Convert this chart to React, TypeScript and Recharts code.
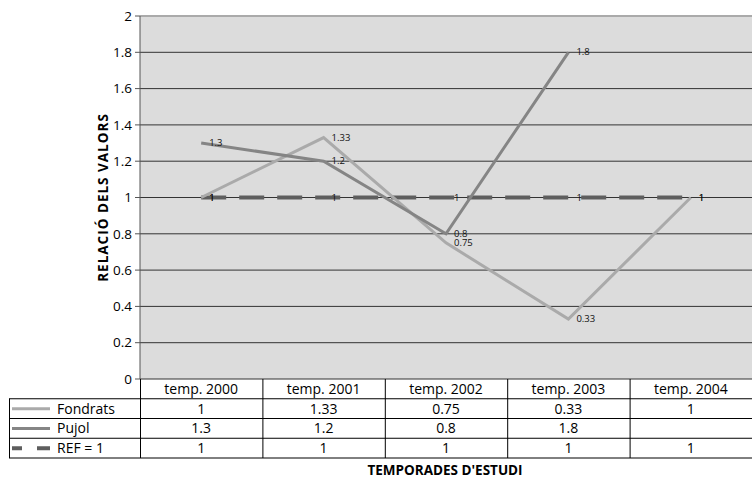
import React from "react";
import {
  LineChart, Line, XAxis, YAxis, CartesianGrid, ReferenceLine, LabelList,
} from "recharts";

const seasons = ["temp. 2000", "temp. 2001", "temp. 2002", "temp. 2003", "temp. 2004"];
const fondrats = [1, 1.33, 0.75, 0.33, 1];
const pujol: (number | null)[] = [1.3, 1.2, 0.8, 1.8, null];
const ref1 = [1, 1, 1, 1, 1];
const yTicks = [0, 0.2, 0.4, 0.6, 0.8, 1, 1.2, 1.4, 1.6, 1.8, 2];

const data = seasons.map((s, i) => ({
  season: s,
  fondrats: fondrats[i],
  pujol: pujol[i],
  ref: ref1[i],
}));

const W = 752;
const H = 479;
const PLOT_LEFT = 140;
const PLOT_BOTTOM = 379;
const ROW_H = 19.75;
const COL_W = (W - PLOT_LEFT) / seasons.length;
const FONT = "'Open Sans', 'Noto Sans', sans-serif";
const TXT = 14;

const rows = [
  { name: "Fondrats", values: fondrats },
  { name: "Pujol", values: pujol },
  { name: "REF = 1", values: ref1 },
];

const fmt = (v: number | null) => (v == null ? "" : String(v));

const TableTick = ({ x, payload }: any) => {
  const i = payload.index;
  return (
    <g>
      <text x={x} y={PLOT_BOTTOM + ROW_H / 2 + 5} textAnchor="middle" fontSize={TXT} fill="#000" fontFamily={FONT}>
        {seasons[i]}
      </text>
      {rows.map((r, k) => (
        <text key={r.name} x={x} y={PLOT_BOTTOM + ROW_H * (k + 1) + ROW_H / 2 + 5} textAnchor="middle" fontSize={TXT} fill="#000" fontFamily={FONT}>
          {fmt(r.values[i])}
        </text>
      ))}
    </g>
  );
};

const PointLabel = ({ x, y, value }: any) => {
  if (value == null) return null;
  return (
    <text x={x + 8} y={y + 3} fontSize={9.5} fill="#111" fontFamily={FONT}>
      {value}
    </text>
  );
};

function TableLines() {
  const ys = [1, 2, 3, 4].map((k) => PLOT_BOTTOM + ROW_H * k);
  const bottom = PLOT_BOTTOM + ROW_H * 4;
  return (
    <svg width={W} height={H} style={{ position: "absolute", left: 0, top: 0, pointerEvents: "none" }}>
      {ys.map((y) => (
        <line key={y} x1={9} x2={W} y1={y} y2={y} stroke="#000" strokeWidth={1} />
      ))}
      <line x1={9.5} x2={9.5} y1={PLOT_BOTTOM + ROW_H} y2={bottom} stroke="#000" />
      {seasons.map((s, i) => (
        <line key={s} x1={PLOT_LEFT + COL_W * i + 0.5} x2={PLOT_LEFT + COL_W * i + 0.5} y1={PLOT_BOTTOM} y2={bottom} stroke="#000" />
      ))}
      {/* legend keys */}
      <line x1={12} x2={50} y1={PLOT_BOTTOM + ROW_H * 1.5} y2={PLOT_BOTTOM + ROW_H * 1.5} stroke="#aaaaaa" strokeWidth={3} />
      <line x1={12} x2={50} y1={PLOT_BOTTOM + ROW_H * 2.5} y2={PLOT_BOTTOM + ROW_H * 2.5} stroke="#858585" strokeWidth={3} />
      <line x1={12} x2={50} y1={PLOT_BOTTOM + ROW_H * 3.5} y2={PLOT_BOTTOM + ROW_H * 3.5} stroke="#5e5e5e" strokeWidth={4} strokeDasharray="10 15 13" />
      {rows.map((r, k) => (
        <text key={r.name} x={57} y={PLOT_BOTTOM + ROW_H * (k + 1) + ROW_H / 2 + 5} fontSize={TXT} fill="#000" fontFamily={FONT}>
          {r.name}
        </text>
      ))}
      <text x={445} y={475} textAnchor="middle" fontSize={13.5} fontWeight="bold" fill="#000" fontFamily={FONT}>
        TEMPORADES D'ESTUDI
      </text>
    </svg>
  );
}

export default function App() {
  return (
    <div style={{ position: "absolute", left: 0, top: 0, width: W, height: H, background: "#fff" }}>
      <LineChart width={W} height={H} data={data} margin={{ top: 16, right: 0, left: 0, bottom: H - PLOT_BOTTOM - 79 }}>
        <CartesianGrid vertical={false} stroke="#333" fill="#dcdcdc" fillOpacity={1} />
        <XAxis
          dataKey="season"
          height={79}
          axisLine={false}
          tickLine={false}
          interval={0}
          padding={{ left: COL_W / 2, right: COL_W / 2 }}
          tick={<TableTick />}
        />
        <YAxis
          width={PLOT_LEFT}
          domain={[0, 2]}
          ticks={yTicks}
          tick={{ fontSize: 13.5, fill: "#000", fontFamily: FONT }}
          tickSize={5}
          tickMargin={3}
          stroke="#555"
          label={{
            value: "RELACIÓ DELS VALORS",
            angle: -90,
            position: "center",
            dx: 33,
            style: { fontSize: 13.5, fontWeight: "bold", fill: "#000", fontFamily: FONT, letterSpacing: 1 },
          }}
        />
        <ReferenceLine y={2} stroke="#aaa" strokeWidth={2} />
        <Line dataKey="ref" stroke="#5e5e5e" strokeWidth={4} strokeDasharray="25 13" dot={false} isAnimationActive={false}>
          <LabelList dataKey="ref" content={<PointLabel />} />
        </Line>
        <Line dataKey="fondrats" stroke="#aaaaaa" strokeWidth={3} dot={false} isAnimationActive={false}>
          <LabelList dataKey="fondrats" content={<PointLabel />} />
        </Line>
        <Line dataKey="pujol" stroke="#858585" strokeWidth={3} dot={false} isAnimationActive={false}>
          <LabelList dataKey="pujol" content={<PointLabel />} />
        </Line>
      </LineChart>
      <TableLines />
    </div>
  );
}
